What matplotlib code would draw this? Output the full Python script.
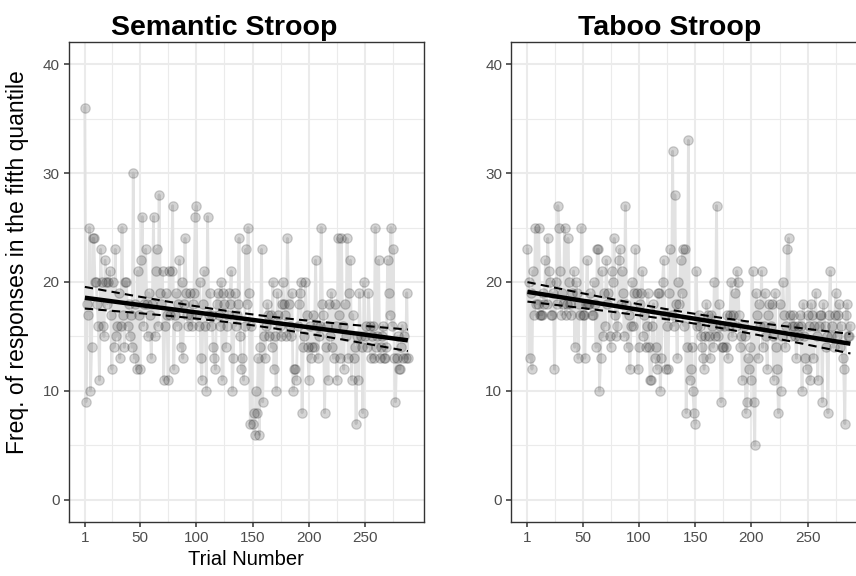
import numpy as np
import matplotlib
matplotlib.use("Agg")
import matplotlib.pyplot as plt

plt.rcParams['font.family'] = ['Liberation Sans', 'DejaVu Sans']

titles = ["Semantic Stroop", "Taboo Stroop"]
x_label = "Trial Number"
y_label = "Freq. of responses in the fifth quantile"
x_ticks = [1, 50, 100, 150, 200, 250]
y_ticks = [0, 10, 20, 30, 40]

semantic = [
    36, 9, 18, 17, 25, 10, 14, 24, 24, 20,
    20, 18, 16, 11, 23, 20, 16, 15, 22, 20,
    18, 20, 21, 17, 12, 20, 14, 23, 15, 16,
    19, 13, 16, 25, 17, 14, 20, 20, 16, 18,
    15, 17, 14, 30, 13, 18, 12, 21, 17, 12,
    22, 26, 16, 18, 23, 18, 15, 19, 17, 13,
    18, 26, 15, 21, 23, 16, 28, 19, 18, 21,
    11, 16, 19, 17, 11, 21, 17, 21, 27, 12,
    17, 19, 16, 18, 22, 14, 20, 13, 18, 24,
    19, 17, 16, 19, 17, 16, 18, 19, 26, 27,
    17, 16, 20, 13, 11, 18, 21, 16, 10, 26,
    17, 19, 16, 17, 14, 13, 12, 18, 19, 17,
    16, 20, 11, 19, 18, 14, 16, 17, 19, 18,
    21, 10, 13, 19, 16, 17, 18, 24, 15, 12,
    13, 11, 16, 23, 18, 25, 19, 7, 16, 7,
    8, 6, 10, 8, 13, 6, 14, 23, 9, 15,
    13, 16, 18, 17, 15, 17, 14, 20, 12, 15,
    10, 19, 17, 16, 15, 18, 20, 18, 17, 15,
    24, 18, 16, 15, 19, 10, 12, 12, 11, 16,
    18, 19, 20, 8, 14, 15, 20, 17, 14, 11,
    16, 13, 14, 17, 14, 22, 16, 13, 15, 16,
    25, 18, 17, 8, 14, 16, 11, 18, 15, 19,
    14, 13, 18, 16, 11, 24, 17, 13, 24, 16,
    12, 18, 15, 24, 13, 19, 22, 11, 17, 13,
    14, 7, 15, 11, 19, 15, 14, 8, 20, 15,
    16, 14, 19, 16, 13, 15, 16, 13, 25, 14,
    15, 22, 13, 14, 15, 16, 13, 13, 14, 22,
    19, 17, 25, 16, 23, 13, 9, 13, 15, 12,
    12, 14, 16, 13, 15, 13, 19, 13,
]

taboo = [
    23, 20, 13, 19, 12, 21, 17, 25, 18, 18,
    25, 17, 17, 17, 19, 18, 22, 18, 24, 21,
    20, 17, 17, 19, 12, 20, 18, 27, 25, 21,
    17, 19, 18, 25, 17, 18, 24, 20, 18, 17,
    19, 21, 14, 20, 19, 13, 18, 17, 25, 17,
    17, 13, 18, 22, 18, 18, 19, 17, 17, 20,
    18, 14, 23, 23, 10, 13, 21, 15, 19, 16,
    22, 18, 19, 15, 14, 21, 20, 24, 17, 15,
    16, 22, 23, 18, 21, 19, 15, 27, 18, 14,
    17, 12, 16, 20, 16, 19, 23, 19, 12, 14,
    18, 19, 21, 15, 17, 14, 16, 19, 14, 11,
    11, 16, 18, 13, 14, 12, 19, 19, 10, 13,
    20, 22, 17, 12, 16, 12, 19, 23, 17, 32,
    16, 28, 18, 13, 20, 18, 22, 19, 23, 16,
    23, 8, 14, 33, 11, 12, 14, 10, 8, 7,
    21, 16, 17, 16, 15, 14, 13, 12, 15, 18,
    17, 15, 13, 17, 16, 14, 20, 15, 27, 15,
    18, 16, 9, 14, 14, 16, 14, 17, 13, 16,
    17, 20, 15, 17, 19, 16, 21, 20, 17, 14,
    15, 11, 16, 15, 8, 9, 13, 12, 14, 11,
    21, 9, 5, 19, 17, 13, 18, 16, 21, 14,
    16, 19, 15, 12, 17, 18, 16, 18, 15, 11,
    19, 14, 12, 8, 18, 10, 15, 20, 17, 14,
    16, 23, 24, 17, 15, 16, 17, 16, 15, 13,
    16, 15, 17, 16, 10, 18, 15, 13, 12, 17,
    16, 11, 18, 17, 13, 16, 19, 15, 11, 16,
    17, 17, 9, 18, 16, 14, 15, 8, 17, 21,
    15, 16, 14, 17, 19, 15, 17, 18, 14, 16,
    13, 12, 7, 17, 18, 15, 15, 16,
]

series = [semantic, taboo]

W, H = 856, 576
fig = plt.figure(figsize=(W / 100, H / 100), dpi=100)

panel_w = 355.3
panel_top = 42.3
panel_bot = 521.7
lefts = [68.7, 511.3]
title_centers = [224, 670]

for i, (vals, title) in enumerate(zip(series, titles)):
    y = np.array(vals, dtype=float)
    x = np.arange(1, len(y) + 1, dtype=float)
    ax = fig.add_axes([lefts[i] / W, 1 - panel_bot / H, panel_w / W,
                       (panel_bot - panel_top) / H])
    ax.plot(x, y, color='#e2e2e2', lw=2.0, zorder=2, solid_joinstyle='round')
    ax.scatter(x, y, s=46, facecolor=(0, 0, 0, 0.17), edgecolor=(0, 0, 0, 0.17),
               linewidths=0.9, zorder=3)
    # linear fit with 95% CI
    n = len(x)
    b, a = np.polyfit(x, y, 1)
    xs = np.linspace(x.min(), x.max(), 200)
    fit = a + b * xs
    resid = y - (a + b * x)
    s = np.sqrt(np.sum(resid ** 2) / (n - 2))
    sxx = np.sum((x - x.mean()) ** 2)
    se = s * np.sqrt(1 / n + (xs - x.mean()) ** 2 / sxx)
    tq = 1.9684
    ax.plot(xs, fit, color='black', lw=3.2, zorder=5, solid_capstyle='butt')
    ax.plot(xs, fit + tq * se, color='black', lw=1.5, ls=(0, (4, 2.5)), zorder=5)
    ax.plot(xs, fit - tq * se, color='black', lw=1.5, ls=(0, (4, 2.5)), zorder=5)

    xr = n - 1
    ax.set_xlim(1 - 0.05 * xr, n + 0.05 * xr)
    ax.set_ylim(-2, 42)
    ax.set_xticks(x_ticks)
    ax.set_yticks(y_ticks)
    minor_x = [(x_ticks[k] + x_ticks[k + 1]) / 2 for k in range(len(x_ticks) - 1)] + [275]
    ax.set_xticks(minor_x, minor=True)
    ax.set_yticks([5, 15, 25, 35], minor=True)
    ax.grid(which='major', color='#ebebeb', lw=1.5, zorder=0)
    ax.grid(which='minor', color='#ebebeb', lw=0.8, zorder=0)
    ax.set_axisbelow(True)
    ax.tick_params(which='major', length=3.5, width=1.1, color='#333333',
                   labelcolor='#4d4d4d', labelsize=11, pad=3)
    ax.tick_params(which='minor', length=0)
    for sp in ax.spines.values():
        sp.set_color('#333333')
        sp.set_linewidth(1.0)
    fig.text(title_centers[i] / W, 1 - 35 / H, title, ha='center', va='baseline',
             fontsize=20.5, fontweight='bold', color='black')
    if i == 0:
        ax.set_xlabel(x_label, fontsize=14.5, color='black', labelpad=4)

fig.text(18 / W, 1 - 262 / H, y_label, rotation=90, ha='center', va='center',
         fontsize=16.5, color='black')

fig.savefig("out.png", dpi=100)
